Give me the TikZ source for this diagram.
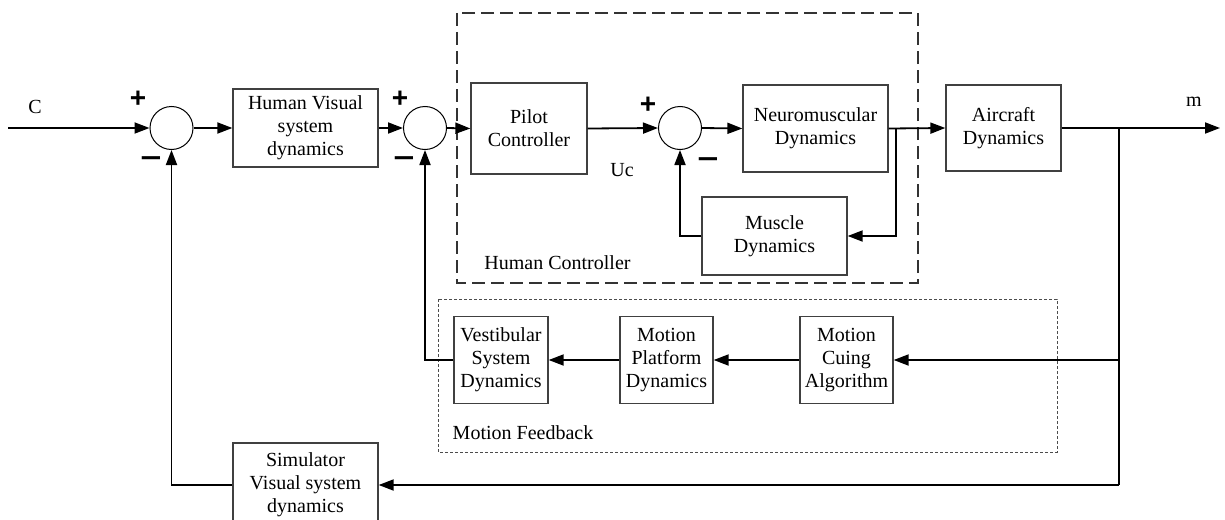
\documentclass[tikz,border=0pt]{standalone}
\usepackage{fontspec}
\setmainfont{Liberation Serif}
\newfontfamily\signfont{Liberation Sans}
\usetikzlibrary{arrows.meta}
\begin{document}
\begin{tikzpicture}[x=1pt,y=-1pt,
  every node/.style={font=\fontsize{20}{23}\selectfont},
  blk/.style={draw=black!75,line width=1.3pt,align=center,inner sep=0pt},
  sumc/.style={draw,circle,line width=1pt,minimum size=43pt,inner sep=0pt},
  conn/.style={line width=1.8pt,-{Triangle[length=15pt,width=11pt]}},
  wire/.style={line width=1.8pt},
  plus/.style={font=\signfont\bfseries\fontsize{28}{28}\selectfont,inner sep=0pt},
  minus/.style={plus,xscale=1.3},
  lbl/.style={inner sep=0pt}]
\useasboundingbox (0,0) rectangle (1225,519);

% group frames
\draw[line width=1.1pt,dash pattern=on 13pt off 6pt,black!80] (457,13) rectangle (918,283);
\draw[line width=0.9pt,dash pattern=on 3pt off 2pt,black!70] (438,299) rectangle (1057,452);

% sum junctions
\node[sumc] (c1) at (171.5,128) {};
\node[sumc] (c2) at (425,128) {};
\node[sumc] (c3) at (680,128) {};

% blocks
\node[blk,minimum width=145pt,minimum height=78pt] (hv) at (305.5,128) {Human Visual\\system\\dynamics};
\node[blk,minimum width=116pt,minimum height=91pt] (pc) at (529,128.5) {Pilot\\Controller};
\node[blk,minimum width=145pt,minimum height=87pt] (nd) at (815.5,128.5) {Neuromuscular\\Dynamics};
\node[blk,minimum width=145pt,minimum height=78pt] (md) at (774.5,236) {Muscle\\Dynamics};
\node[blk,minimum width=115pt,minimum height=86pt] (ad) at (1003.5,128) {Aircraft\\Dynamics};
\node[blk,minimum width=94pt,minimum height=87pt] (vs) at (501,360) {Vestibular\\System\\Dynamics};
\node[blk,minimum width=93pt,minimum height=87pt] (mp) at (666.5,360) {Motion\\Platform\\Dynamics};
\node[blk,minimum width=93pt,minimum height=87pt] (mc) at (846.5,360) {Motion\\Cuing\\Algorithm};
\node[blk,minimum width=145pt,minimum height=84pt] (sv) at (305.5,485) {Simulator\\Visual system\\dynamics};

% signs
\node[plus] (p1) at (138,99) {+};
\node[minus] (m1) at (151,162) {−};
\node[plus] (p2) at (400,99) {+};
\node[minus] (m2) at (404,162) {−};
\node[plus] (p3) at (648,105) {+};
\node[minus] (m3) at (708,163) {−};

% labels
\node[lbl] (lc) at (35,107) {C};
\node[lbl] (lm) at (1194,102) {m};
\node[lbl] (luc) at (622,170) {Uc};
\node[lbl] (lhc) at (557.5,263) {Human Controller};
\node[lbl] (lmf) at (523,433) {Motion Feedback};

% coordinates
\coordinate (in) at (8,128);
\coordinate (out) at (1220,128);
\coordinate (b1) at (896,128);
\coordinate (b2) at (1119,128);

% forward path
\draw[conn] (in) -- (c1.west);
\draw[conn] (c1.east) -- (hv.west);
\draw[conn] (hv.east) -- (c2.west);
\draw[conn] (c2.east) -- (pc.west);
\draw[conn] (pc.east) -- (c3.west);
\draw[conn] (c3.east) -- (nd.west);
\draw[conn] (nd.east) -- (ad.west);
\draw[conn] (ad.east) -- (out);

% inner loop
\draw[conn] (b1) |- (md.east);
\draw[conn] (md.west) -| (c3.south);

% motion feedback
\draw[wire] (b2) -- (b2 |- sv.east);
\draw[conn] (b2 |- mc.east) -- (mc.east);
\draw[conn] (mc.west) -- (mp.east);
\draw[conn] (mp.west) -- (vs.east);
\draw[conn] (vs.west) -| (c2.south);

% visual feedback
\draw[conn] (b2 |- sv.east) -- (sv.east);
\draw[conn] (sv.west) -| (c1.south);
\end{tikzpicture}
\end{document}
